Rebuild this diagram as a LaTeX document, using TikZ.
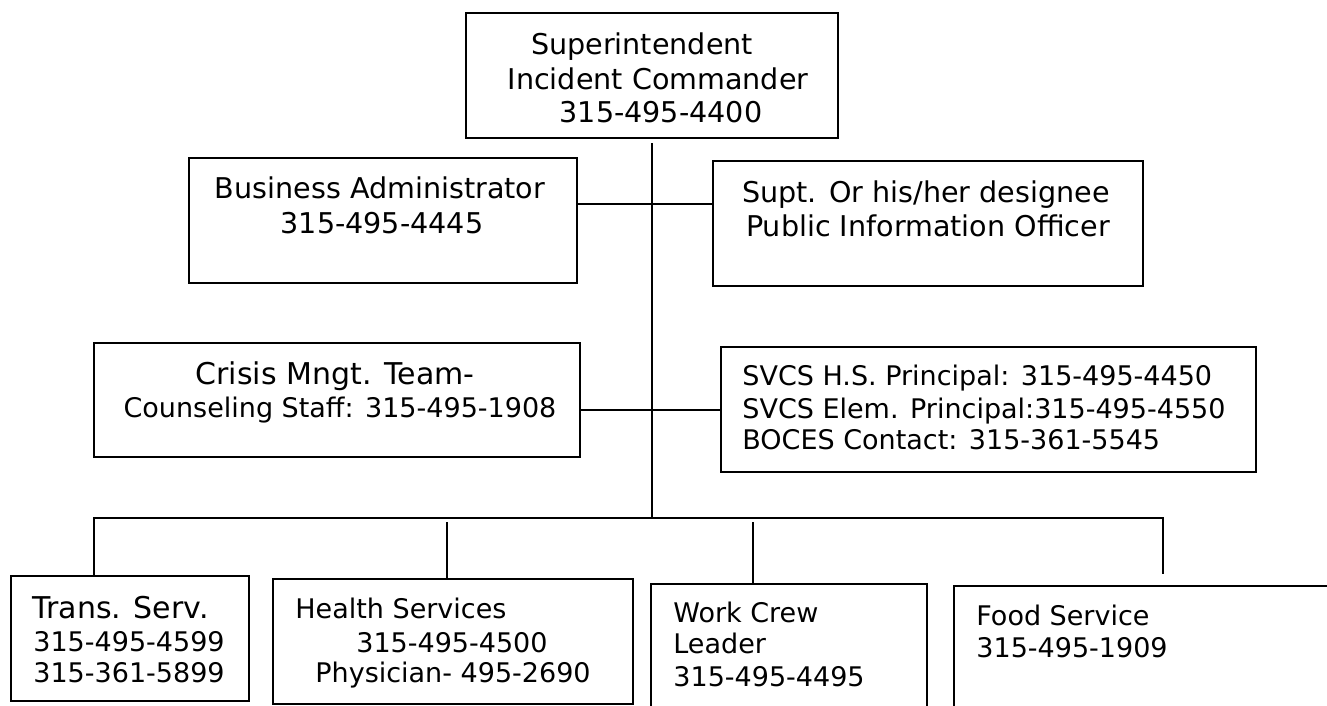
\documentclass[tikz,border=0pt]{standalone}
\usepackage{fontspec}
\setmainfont{DejaVu Sans}
\usetikzlibrary{fit}
\tikzset{
  box/.style={draw, line width=1pt, inner sep=0pt},
  conn/.style={line width=1pt},
  tl/.style={inner sep=0pt, anchor=base, font=\fontsize{14.3}{17}\selectfont},
  tlw/.style={tl, anchor=base west},
  tb/.style={inner sep=0pt, anchor=base, font=\fontsize{15}{18}\selectfont},
  tbw/.style={tb, anchor=base west},
  ts/.style={inner sep=0pt, anchor=base, font=\fontsize{13.5}{16}\selectfont},
  tsw/.style={ts, anchor=base west}
}
\begin{document}
\begin{tikzpicture}[x=0.5pt, y=-0.5pt]
\useasboundingbox (0,0) rectangle (1327,706);
\clip (0,0) rectangle (1327,706);
\fill[white] (0,0) rectangle (1327,706);

% boxes
\node[box, fit={(466,13) (838,138)}] (top) {};
\node[box, fit={(189,158) (577,283)}] (ba) {};
\node[box, fit={(713,161) (1143,286)}] (supt) {};
\node[box, fit={(94,343) (580,457)}] (crisis) {};
\node[box, fit={(721,347) (1256,472)}] (svcs) {};
\node[box, fit={(11,576) (249,701)}] (trans) {};
\node[box, fit={(273,579) (633,704)}] (health) {};
\node[box, fit={(651,584) (927,730)}] (work) {};
\node[box, fit={(954,586) (1345,730)}] (food) {};

% texts
\node[tl] (t1) at (642,55) {Superintendent};
\node[tl] (t2) at (658,90) {Incident Commander};
\node[tl] (t3) at (661,123) {315-495-4400};

\node[tl] (t4) at (380,198) {Business Administrator};
\node[tl] (t5) at (382,233) {315-495-4445};

\node[tl] (t6) at (926,202) {Supt. Or his/her designee};
\node[tl] (t7) at (928,236) {Public Information Officer};

\node[tb] (t8) at (335,384) {Crisis Mngt. Team-};
\node[ts] (t9) at (340,417) {Counseling Staff: 315-495-1908};

\node[tsw] (t10) at (742,385) {SVCS H.S. Principal: 315-495-4450};
\node[tsw] (t11) at (742,418) {SVCS Elem. Principal:315-495-4550};
\node[tsw] (t12) at (742,449) {BOCES Contact: 315-361-5545};

\node[tbw] (t13) at (32,618) {Trans. Serv.};
\node[tsw] (t14) at (33,651) {315-495-4599};
\node[tsw] (t15) at (33,682) {315-361-5899};

\node[tsw] (t16) at (295,618) {Health Services};
\node[ts] (t17) at (452,652) {315-495-4500};
\node[ts] (t18) at (453,682) {Physician- 495-2690};

\node[tsw] (t19) at (673,622) {Work Crew};
\node[tsw] (t20) at (673,653) {Leader};
\node[tsw] (t21) at (673,686) {315-495-4495};

\node[tsw] (t22) at (976,625) {Food Service};
\node[tsw] (t23) at (976,657) {315-495-1909};

% connectors
\coordinate (j1) at (652,204);
\coordinate (bus) at (652,518);
\coordinate (d1) at (94,518);
\coordinate (d4) at (1163,518);
\coordinate (e4) at (1163,574);
\coordinate (d2) at (447,522);
\coordinate (d3) at (753,522);

\draw[conn] ([yshift=-2pt]top.south) -- (bus);
\draw[conn] (ba.east |- j1) -- (supt.west |- j1);
\draw[conn] (crisis.east |- svcs.west) -- (svcs.west);
\draw[conn] (trans.north -| d1) -- (d1) -- (d4) -- (e4);
\draw[conn] (d2) -- (health.north -| d2);
\draw[conn] (d3) -- (work.north -| d3);
\end{tikzpicture}
\end{document}
